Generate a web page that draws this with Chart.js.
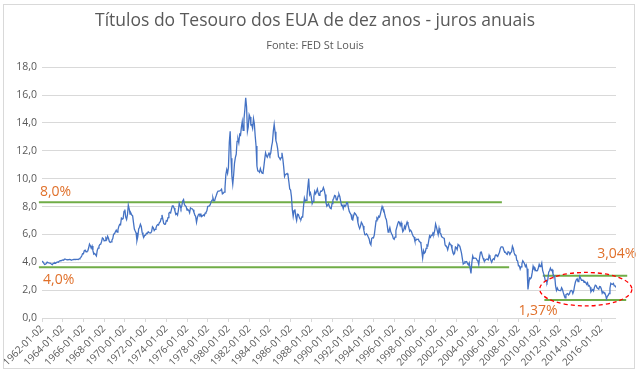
<!DOCTYPE html>
<html>
<head>
<meta charset="utf-8">
<script src="https://cdn.jsdelivr.net/npm/chart.js@4"></script>
<style>
  html, body { margin: 0; padding: 0; background: #fff; overflow: hidden; }
  #wrap { position: relative; width: 640px; height: 373px; }
  #yieldChart { display: block; }
  #frame { position: absolute; left: 3px; top: 4px; width: 630px; height: 363px; border: 1px solid #d9d9d9; pointer-events: none; }
</style>
</head>
<body>
<div id="wrap">
  <canvas id="yieldChart" width="640" height="373"></canvas>
  <div id="frame"></div>
</div>
<script>
// 10-year yield, monthly, from Jan 1962
const startYear = 1962;
const yields60s = [
  4.08,4.04,3.93,3.84,3.87,3.91,4.01,3.98,3.98,3.93,3.92,3.86,
  3.83,3.92,3.93,3.97,3.93,3.99,4.02,4.00,4.08,4.11,4.12,4.13,
  4.17,4.15,4.22,4.23,4.20,4.17,4.19,4.19,4.20,4.19,4.15,4.18,
  4.19,4.21,4.21,4.20,4.21,4.21,4.20,4.25,4.29,4.35,4.45,4.62,
  4.61,4.83,4.87,4.75,4.78,4.81,5.02,5.30,5.18,5.01,5.16,4.84,
  4.58,4.63,4.54,4.45,4.85,5.02,5.16,5.28,5.30,5.48,5.75,5.70,
  5.53,5.56,5.74,5.64,5.87,5.72,5.50,5.42,5.46,5.58,5.70,6.03,
  6.04,6.19,6.30,6.17,6.32,6.57,6.72,6.69,7.16,7.10,7.14,7.65
];
const yields70s = [
  7.79,7.24,7.07,7.39,8.10,7.84,7.46,7.53,7.39,7.33,6.84,6.39,
  6.24,6.11,5.55,5.83,6.39,6.52,6.73,6.58,6.14,5.93,5.81,5.93,
  5.95,6.08,6.07,6.19,6.13,6.11,6.11,6.21,6.55,6.48,6.28,6.36,
  6.46,6.64,6.71,6.67,6.85,6.90,7.13,7.40,7.09,6.79,6.73,6.74,
  6.99,6.96,7.21,7.51,7.58,7.54,7.81,8.04,8.04,7.90,7.68,7.43,
  7.50,7.39,7.73,8.23,8.06,7.86,8.06,8.40,8.50,8.14,8.05,8.00,
  7.74,7.79,7.73,7.56,7.90,7.86,7.83,7.77,7.59,7.41,7.29,6.87,
  7.21,7.39,7.46,7.37,7.46,7.28,7.33,7.40,7.34,7.52,7.58,7.69,
  8.01,8.03,8.04,8.15,8.35,8.46,8.64,8.41,8.42,8.64,8.81,9.01,
  9.10,9.10,9.12,9.18,9.25,8.91,8.95,9.03,9.33,10.30,10.65,10.39
];
const yields80s = [
  10.80,12.60,13.40,11.47,10.18,9.60,10.25,11.10,11.51,11.75,12.68,12.84,
  12.57,13.19,13.12,13.68,14.10,13.47,14.28,14.94,15.80,15.15,13.39,13.72,
  14.59,14.43,13.86,13.87,13.62,14.30,13.95,13.06,12.34,10.91,10.55,10.54,
  10.46,10.72,10.51,10.40,10.38,10.85,11.38,11.85,11.65,11.54,11.69,11.83,
  11.67,11.84,12.32,12.63,13.41,13.90,13.36,12.72,12.52,12.16,11.57,11.50,
  11.38,11.51,11.86,11.43,10.85,10.16,10.31,10.33,10.37,10.24,9.78,9.26,
  9.19,8.70,7.78,7.30,7.71,7.80,7.30,7.00,7.45,7.43,7.25,7.11,
  7.08,7.25,7.25,8.02,8.61,8.40,8.45,8.76,9.42,10.00,8.86,8.99,
  8.67,8.21,8.37,8.72,9.09,8.92,9.06,9.26,8.98,8.80,8.96,9.11,
  9.09,9.17,9.36,9.18,8.86,8.28,8.02,8.11,8.19,8.01,7.87,7.84
];
const yields90s = [
  8.21,8.47,8.59,8.79,8.76,8.48,8.47,8.75,8.89,8.72,8.39,8.08,
  8.09,7.85,8.11,8.04,8.07,8.28,8.27,7.90,7.65,7.53,7.42,7.09,
  7.03,7.34,7.54,7.48,7.39,7.26,6.84,6.59,6.42,6.59,6.87,6.77,
  6.60,6.26,5.98,5.97,6.04,5.96,5.81,5.68,5.36,5.25,5.72,5.77,
  5.75,5.97,6.48,6.97,7.18,7.10,7.30,7.24,7.46,7.74,8.00,7.81,
  7.78,7.47,7.20,7.06,6.63,6.17,6.28,6.49,6.20,6.04,5.93,5.71,
  5.65,5.81,6.27,6.51,6.74,6.91,6.87,6.64,6.83,6.53,6.20,6.30,
  6.58,6.42,6.69,6.89,6.71,6.49,6.22,6.30,6.21,6.03,5.88,5.81,
  5.54,5.57,5.65,5.64,5.65,5.50,5.46,5.34,4.81,4.30,4.83,4.65,
  4.72,5.00,5.23,5.18,5.54,5.90,5.79,5.94,5.92,6.11,6.03,6.28
];
const yields00s = [
  6.75,6.52,6.26,5.99,6.44,6.10,6.05,5.83,5.80,5.74,5.72,5.24,
  5.16,5.10,4.89,5.14,5.39,5.28,5.24,4.97,4.73,4.57,4.65,5.09,
  5.04,4.91,5.28,5.21,5.16,4.93,4.65,4.26,3.87,3.94,4.05,4.03,
  4.05,3.90,3.81,3.96,3.57,3.20,3.98,4.45,4.27,4.29,4.30,4.27,
  4.15,4.08,3.83,4.35,4.72,4.73,4.50,4.28,4.13,4.10,4.19,4.23,
  4.22,4.17,4.50,4.34,4.14,4.00,4.18,4.26,4.20,4.46,4.54,4.47,
  4.42,4.57,4.72,4.99,5.11,5.11,5.09,4.88,4.72,4.73,4.60,4.56,
  4.76,4.72,4.56,4.69,4.75,5.15,5.00,4.67,4.52,4.53,4.15,4.10,
  3.74,3.74,3.51,3.68,3.88,4.10,4.01,3.89,3.69,3.81,3.53,2.05,
  2.52,2.87,2.82,2.93,3.29,3.72,3.56,3.59,3.40,3.39,3.40,3.59
];
const yields10s = [
  3.85,3.69,3.73,3.95,3.42,3.20,3.01,2.70,2.65,2.54,2.76,3.29,
  3.39,3.58,3.41,3.46,3.17,3.00,3.00,2.30,1.98,2.15,2.01,1.98,
  1.97,1.97,2.17,2.05,1.80,1.62,1.45,1.68,1.72,1.75,1.65,1.72,
  1.91,1.98,1.96,1.76,1.93,2.30,2.58,2.74,2.81,2.62,2.72,3.00,
  2.86,2.71,2.72,2.71,2.56,2.60,2.54,2.42,2.53,2.30,2.33,2.21,
  1.88,1.98,2.04,1.94,2.20,2.36,2.32,2.17,2.17,2.07,2.26,2.24,
  2.09,1.78,1.89,1.81,1.81,1.64,1.37,1.56,1.63,1.76,2.14,2.49,
  2.43,2.42,2.48,2.30,2.30,2.19
];

const tickYears = [1962,1964,1966,1968,1970,1972,1974,1976,1978,1980,1982,1984,1986,1988,
  1990,1992,1994,1996,1998,2000,2002,2004,2006,2008,2010,2012,2014,2016];
const tickLabels = tickYears.map(y => y + "-01-02");

// green guide lines drawn over the chart: [fromYear, toYear, level]
const guideLines = [
  [1961.7, 2006.4, 8.3],
  [1961.7, 2007.1, 3.65],
  [2010.35, 2018.5, 3.03],
  [2010.5, 2018.4, 1.3]
];
// orange notes: text, year, level
const notes = [
  ["8,0%", 1961.8, 9.05],
  ["4,0%", 1962.1, 2.75],
  ["3,04%", 2015.6, 4.6],
  ["1,37%", 2008.0, 0.5]
];
// dashed ellipse around the recent range: centre year, centre level, half width (years), half height
const ring = [2014.5, 2.07, 4.45, 1.2];

const allYields = [].concat(yields60s, yields70s, yields80s, yields90s, yields00s, yields10s);
const points = allYields.map((v, i) => ({ x: startYear + i / 12, y: v }));
const lastX = startYear + (allYields.length - 1) / 12;

const guideSets = guideLines.map(g => ({
  data: [{ x: g[0], y: g[2] }, { x: g[1], y: g[2] }],
  borderColor: "#70ad47",
  borderWidth: 2,
  pointRadius: 0,
  clip: false
}));

const notesPlugin = {
  id: "notes",
  afterDatasetsDraw(chart) {
    const { ctx, scales: { x, y } } = chart;
    ctx.save();
    ctx.beginPath();
    ctx.setLineDash([4, 3]);
    ctx.strokeStyle = "#ff0000";
    ctx.lineWidth = 1.3;
    const cx = x.getPixelForValue(ring[0]), cy = y.getPixelForValue(ring[1]);
    const rx = x.getPixelForValue(ring[0] + ring[2]) - cx;
    const ry = cy - y.getPixelForValue(ring[1] + ring[3]);
    ctx.ellipse(cx, cy, rx, ry, 0, 0, Math.PI * 2);
    ctx.stroke();
    ctx.setLineDash([]);
    ctx.fillStyle = "#e0702a";
    ctx.font = "14px 'Open Sans', sans-serif";
    ctx.textBaseline = "middle";
    notes.forEach(n => {
      ctx.fillText(n[0], x.getPixelForValue(n[1]), y.getPixelForValue(n[2]));
    });
    ctx.restore();
  }
};

new Chart(document.getElementById("yieldChart"), {
  type: "line",
  data: {
    datasets: [{
      data: points,
      borderColor: "#4472c4",
      borderWidth: 1.3,
      pointRadius: 0,
      tension: 0
    }].concat(guideSets)
  },
  options: {
    responsive: false,
    animation: false,
    devicePixelRatio: 1,
    layout: { padding: { left: 14, right: 24, top: 5, bottom: 6 } },
    plugins: {
      legend: { display: false },
      tooltip: { enabled: false },
      title: {
        display: true,
        text: "Títulos do Tesouro dos EUA de dez anos - juros anuais",
        color: "#595959",
        font: { family: "'Open Sans', sans-serif", size: 17.5, weight: "normal" },
        padding: { top: 6, bottom: 3 }
      },
      subtitle: {
        display: true,
        text: "Fonte: FED St Louis",
        color: "#595959",
        font: { family: "'Open Sans', sans-serif", size: 11 },
        padding: { top: 4, bottom: 15 }
      }
    },
    scales: {
      x: {
        type: "linear",
        min: startYear,
        max: lastX,
        afterBuildTicks: s => { s.ticks = tickYears.map(v => ({ value: v })); },
        afterFit: s => { s.height = 49; },
        ticks: {
          autoSkip: false,
          maxRotation: 45,
          minRotation: 45,
          color: "#595959",
          font: { family: "'Open Sans', sans-serif", size: 10 },
          padding: 1,
          callback: v => tickLabels[tickYears.indexOf(v)]
        },
        grid: { drawOnChartArea: false, color: "#d9d9d9", tickLength: 4 },
        border: { display: false }
      },
      y: {
        min: 0,
        max: 18,
        afterFit: s => { s.width = 28; },
        ticks: {
          stepSize: 2,
          color: "#595959",
          font: { family: "'Open Sans', sans-serif", size: 10.5 },
          padding: 5,
          callback: v => v.toFixed(1).replace(".", ",")
        },
        grid: { color: "#d9d9d9", drawTicks: false },
        border: { display: false }
      }
    }
  },
  plugins: [notesPlugin]
});
</script>
</body>
</html>
